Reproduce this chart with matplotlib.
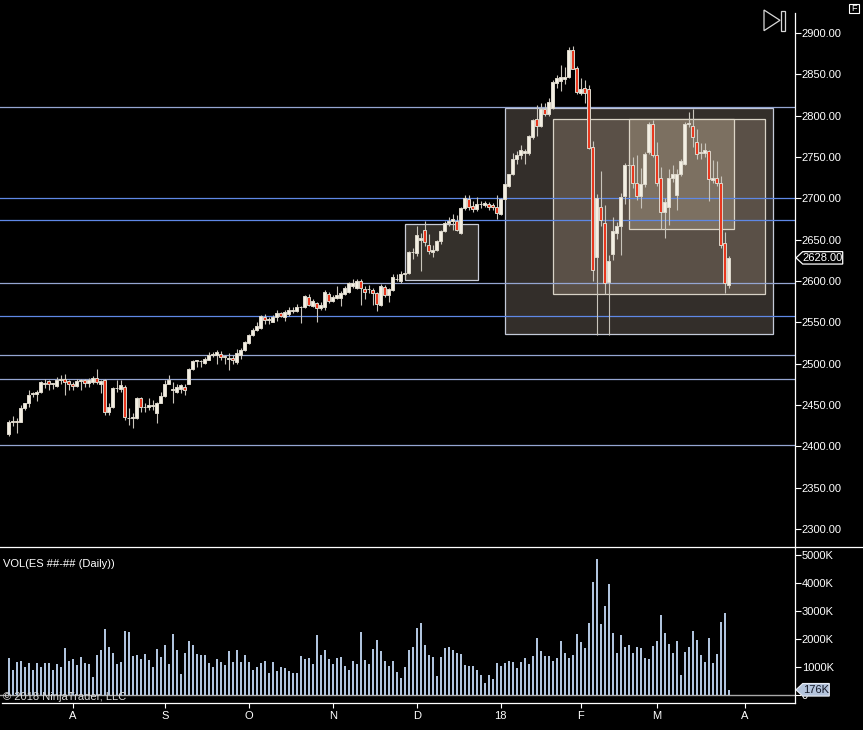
import numpy as np
import matplotlib
matplotlib.use("Agg")
import matplotlib.pyplot as plt
from matplotlib.patches import Rectangle, Polygon
from matplotlib.lines import Line2D
import matplotlib.transforms as mtransforms

plt.rcParams['font.family'] = ['Liberation Sans', 'DejaVu Sans']

# ---------------- data ----------------
opens = [2415,2430,2431,2430,2446,2453,2463,2463,2466,2476,
2479,2476,2473,2480,2481,2479,2476,2473,2479.5,2480,
2477,2478,2483,2476,2480,2441,2447,2470,2469,2472,
2434,2434,2434,2459,2447,2448,2449,2440,2453,2461,
2476,2468,2466,2469,2472,2476,2494,2503,2503,2501,
2505,2510,2510,2512,2509,2506,2507,2502,2510,2516,
2525,2535,2541,2543,2557,2553,2551,2557,2561,2556,
2560,2564,2564,2568,2569,2581,2570,2573,2567,2569,
2584,2576,2580,2579,2584,2587,2594,2592,2600,2590,
2590,2589,2585,2571,2593,2583,2589,2602,2600,2609,
2610,2635,2634,2650,2662,2644,2635,2638,2648,2660,
2670,2673,2672,2658,2688,2699,2691,2687,2693,2692,
2693,2692,2690,2681,2699,2715,2730,2747,2752,2755,
2755,2774,2796,2788,2808,2802,2809,2840,2842,2844,
2847,2880,2858,2828,2834,2832,2762,2629,2690,2670,
2599,2633,2658,2667,2703,2740,2740,2719,2703,2717,
2756,2790,2752,2724,2684,2689,2724,2704,2729,2742,
2790,2787.5,2768,2755,2755,2757,2722,2725,2718,2646,
2595]
highs = [2432,2437,2434,2450,2453,2468,2466,2468,2479,2482,
2480,2477,2484,2486,2487,2480,2478,2481,2482,2482,
2483,2485,2494,2480,2481,2452,2472,2480,2480,2474,
2446,2440,2460,2460,2452,2459,2456,2454,2466,2480,
2486,2478,2476,2476,2476,2495,2505,2505,2505,2508,
2514,2514,2516,2515,2511,2513,2510,2518,2519,2528,
2536,2543,2550,2559,2560,2557,2559,2565,2563,2565,
2568,2568,2572,2570,2583,2584,2578,2575,2574,2589,
2587,2583,2594,2588,2594,2599,2602,2602,2602,2594,
2595,2592,2587,2596,2595,2592,2608,2608,2612,2611,
2636,2640,2666,2658,2673,2657,2644,2650,2662,2673,
2677,2681,2680,2690,2704,2704,2697,2702,2697,2697,
2696,2694,2704,2701,2718,2730,2755,2757,2765,2760,
2777,2796,2813,2815,2815,2821,2843,2849,2861,2859,
2883,2884,2860,2845,2843,2837,2769,2705,2733,2692,
2632,2677,2671,2707,2743,2742,2750,2753,2737,2756,
2792,2795,2768,2738,2701,2735,2740,2735,2748,2792,
2805,2808,2784,2767,2767,2759,2746,2745,2727,2659,
2630]
lows = [2413,2425,2416,2429,2444,2448,2460,2455,2465,2470,
2468,2469,2472,2476,2462,2468,2468,2472,2468,2472,
2472,2476,2476,2464,2438,2438,2446,2466,2466,2432,
2426,2422,2433,2442,2442,2444,2444,2428,2452,2460,
2475,2452,2464,2464,2462,2475,2492,2496,2496,2500,
2504,2508,2500,2505,2500,2492,2500,2500,2506,2515,
2524,2534,2540,2542,2548,2548,2550,2552,2556,2552,
2558,2561,2562,2549,2567,2570,2569,2550,2565,2565,
2573,2574,2578,2570,2583,2586,2592,2590,2571,2578,
2585,2571,2564,2570,2581,2575,2588,2600,2598,2603,
2609,2627,2630,2612,2642,2633,2629,2636,2645,2659,
2667,2662,2660,2657,2686,2686,2683,2685,2688,2690,
2686,2686,2675,2680,2698,2714,2728,2742,2748,2741,
2753,2772,2775,2786,2800,2800,2808,2834,2830,2838,
2846,2856,2826,2825,2815,2760,2600,2535,2666,2584,
2535,2625,2651,2632,2693,2735,2712,2698,2688,2714,
2754,2750,2715,2663,2652,2668,2720,2686,2727,2740,
2786,2762,2748,2747,2750,2697,2719,2715,2640,2586,
2591]
closes = [2430,2431,2430,2446,2452,2462,2465,2466,2478,2477,
2476,2476.5,2480,2481,2478,2476,2473,2479,2480,2477,
2480,2483,2478,2479,2442,2447,2470,2470.5,2474,2435,
2434.5,2436,2459,2447,2448,2450,2450,2453,2461,2476,
2480,2469,2472,2474,2468,2494,2503,2504,2503.5,2506,
2511,2512,2514,2508,2508,2506.5,2504,2513,2516,2526,
2535,2541,2545,2558,2553,2553.5,2557,2561,2558,2562,
2565,2565,2569,2568.5,2582,2571,2576,2567,2571,2587,
2576,2581,2583,2586,2591,2597,2597,2600,2592,2587,
2590.5,2586,2572,2594,2583,2590,2605,2603,2609,2610,
2635,2635.5,2656,2652,2647,2636,2637,2648,2660,2670,
2672,2675,2662,2688,2700,2689,2687,2693,2693.5,2694,
2690,2690,2682,2699,2717,2729,2748,2752,2758,2757,
2775,2795,2788,2808,2802,2817,2841,2845,2847,2847,
2880,2857,2829,2832,2828,2761,2613,2700,2674,2598,
2624,2660,2667,2702,2740,2740.5,2719,2703,2717,2754,
2790,2752,2719,2683,2695,2724,2729,2729,2745,2790,
2790.5,2774,2754,2756,2758,2723,2725,2718,2643,2598,
2628]
volumes_k = [1300,871,1157,1193,978,1121,871,1121,978,1121,
1121,871,1086,978,1658,1193,1265,1050,1336,1121,
1086,620,1408,1587,2338,1694,1479,1086,1157,2267,
2231,1372,1408,1265,1444,1229,978,1622,1336,1766,
1086,2159,1587,728,1479,1909,1766,1444,1408,1408,
1121,978,1265,1157,1050,1551,1157,1587,1157,1408,
1157,871,978,1121,1193,764,1157,835,978,942,
835,764,764,1372,1265,1300,1086,2124,1408,1587,
1265,1086,1300,1336,1014,871,1193,1086,2231,1229,
1086,1622,1945,1551,1193,1014,1193,799,585,978,
1587,1694,2374,2553,1766,1408,1336,656,1336,1658,
1694,1587,1479,1444,1050,1014,1014,871,692,406,
692,549,1121,1014,1121,1193,1157,942,1157,1300,
1086,1372,2016,1551,1372,1372,1193,1300,1909,1479,
1300,1408,2159,1873,1658,2553,4020,4844,2517,3161,
3949,2195,1479,2124,1694,1766,1479,1694,1658,1300,
1265,1730,1909,2839,2195,1801,1479,1909,692,1515,
1694,2267,1945,1408,1157,2016,1121,1444,2589,2911,
176]

month_tick_pos = [16, 39, 60, 81, 102, 123, 143, 162, 184]
month_tick_labels = ['A', 'S', 'O', 'N', 'D', '18', 'F', 'M', 'A']
price_ticks = list(range(2300, 2901, 50))
vol_ticks = [0, 1000, 2000, 3000, 4000, 5000]
vol_tick_labels = ['0', '1000K', '2000K', '3000K', '4000K', '5000K']

hlines_blue = [2700.0, 2673.4, 2557.3]
hlines_light = [2810.1, 2597.2, 2510.1, 2481.1, 2401.3]

# drawn zones: (x0, x1, low, high)
zone_outer = (124.15, 191.0, 2535.5, 2808.9)
zone_middle = (136.15, 189.0, 2583.9, 2795.6)
zone_inner = (155.15, 181.25, 2662.5, 2795.6)
zone_dec = (99.15, 117.25, 2600.9, 2669.0)

# ---------------- figure ----------------
W, H = 863, 730
fig = plt.figure(figsize=(W / 100, H / 100), dpi=100, facecolor='black')

def fx(x):
    return x / W

def fy(y):
    return 1 - y / H

axr = 794.5
ax = fig.add_axes([0, fy(546), fx(axr), 546 / H], facecolor='black')
axv = fig.add_axes([0, fy(703), fx(axr), 157 / H], facecolor='black')

xlim = (-2.175, 196.45)
ax.set_xlim(*xlim)
ax.set_ylim(2279.45, 2939.9)
axv.set_xlim(*xlim)
axv.set_ylim(-296, 5311)

for a in (ax, axv):
    for s in a.spines.values():
        s.set_visible(False)

idx = np.arange(len(opens))
o = np.array(opens, float)
h = np.array(highs, float)
l = np.array(lows, float)
c = np.array(closes, float)
up = c >= o

# zones
def zone(a, z, fc, ec):
    x0, x1, lo, hi = z
    a.add_patch(Rectangle((x0, lo), x1 - x0, hi - lo, facecolor=fc,
                          edgecolor=ec, lw=0.9, zorder=1))

zone(ax, zone_outer, '#332e2a', '#c4cad8')
zone(ax, zone_middle, '#5a5047', '#d8d2c6')
zone(ax, zone_inner, '#7c7061', '#ddd6c8')
zone(ax, zone_dec, '#34302b', '#c8ccd8')

for v in hlines_blue:
    ax.axhline(v, color='#5f88e6', lw=0.9, zorder=2)
for v in hlines_light:
    ax.axhline(v, color='#95a6d2', lw=0.9, zorder=2)

# candles
ax.vlines(idx, l, h, color='#c9c5bc', lw=0.8, zorder=3)
body_lo = np.minimum(o, c)
body_h = np.maximum(np.abs(c - o), 0.6)
fills = np.where(up, '#f3efe3', '#e8381f')
ax.bar(idx, body_h, bottom=body_lo, width=0.72, color=fills,
       edgecolor='#ddd8cc', linewidth=0.7, zorder=4)

# price axis ticks
ax.yaxis.tick_right()
ax.set_yticks(price_ticks)
ax.set_yticklabels([f"{v:.2f}" for v in price_ticks])
ax.tick_params(axis='y', colors='white', labelcolor='white', length=4.3,
               width=0.8, pad=1, labelsize=8)
ax.set_xticks([])

# volume
axv.bar(idx, volumes_k, width=0.5, color='#b0c4de', zorder=3)
axv.axhline(0, color='#a8a8a8', lw=1.0, zorder=2)
axv.yaxis.tick_right()
axv.set_yticks(vol_ticks)
axv.set_yticklabels(vol_tick_labels)
axv.tick_params(axis='y', colors='white', labelcolor='white', length=4.3,
                width=0.8, pad=1, labelsize=8)
axv.set_xticks(month_tick_pos)
axv.set_xticklabels(month_tick_labels)
axv.tick_params(axis='x', colors='white', labelcolor='white', length=3.6,
                width=0.8, pad=2, labelsize=8)

# frame lines
fig.add_artist(Line2D([fx(axr), fx(axr)], [fy(13), fy(703)], color='white',
                      lw=0.9, transform=fig.transFigure))
fig.add_artist(Line2D([0, 1], [fy(546.5), fy(546.5)], color='white',
                      lw=0.9, transform=fig.transFigure))
fig.add_artist(Line2D([fx(2), fx(axr)], [fy(703), fy(703)], color='white',
                      lw=0.9, transform=fig.transFigure))

# last price marker
last = closes[-1]
tr = mtransforms.blended_transform_factory(fig.transFigure, ax.transData)
hh = 6.2 / 0.8267
ax.add_artist(Polygon([(fx(796), last), (fx(802.7), last + hh),
                       (fx(842.7), last + hh), (fx(842.7), last - hh),
                       (fx(802.7), last - hh)], closed=True,
                      facecolor='black', edgecolor='white', lw=0.9,
                      transform=tr, clip_on=False, zorder=10))
ax.text(fx(822.5), last, f"{last:.2f}", transform=tr, color='white',
        fontsize=8, ha='center', va='center', zorder=11, clip_on=False)

# last volume marker
lastv = volumes_k[-1]
trv = mtransforms.blended_transform_factory(fig.transFigure, axv.transData)
vh = 6.3 / 28 * 1000
axv.add_artist(Polygon([(fx(796), lastv), (fx(802.7), lastv + vh),
                        (fx(829.3), lastv + vh), (fx(829.3), lastv - vh),
                        (fx(802.7), lastv - vh)], closed=True,
                       facecolor='#b4c4dc', edgecolor='#e8ecf4', lw=0.8,
                       transform=trv, clip_on=False, zorder=10))
axv.text(fx(816.5), lastv, f"{lastv}K", transform=trv, color='#141828',
         fontsize=8, ha='center', va='center', zorder=11, clip_on=False)

# labels
fig.text(fx(3.3), fy(564.3), "VOL(ES ##-## (Daily))", color='white',
         fontsize=8, ha='left', va='center')
fig.text(fx(2.7), fy(697.3), "\u00a9 2018 NinjaTrader, LLC", color='#d8d8d8',
         fontsize=8, ha='left', va='center', zorder=20)

# top-right icons
fig.add_artist(Polygon([(fx(764), fy(10)), (fx(780), fy(20.3)),
                        (fx(764), fy(30.7))], closed=True, fill=False,
                       edgecolor='#d8d8d8', lw=0.9, transform=fig.transFigure))
fig.add_artist(Rectangle((fx(781.3), fy(30.7)), 3.4 / W, 19.7 / H,
                         fill=False, edgecolor='#d8d8d8', lw=0.9,
                         transform=fig.transFigure))
fig.add_artist(Rectangle((fx(849.3), fy(13.3)), 10 / W, 9.3 / H,
                         fill=False, edgecolor='white', lw=0.8,
                         transform=fig.transFigure))
fig.text(fx(854.3), fy(8.9), "F", color='white', fontsize=6.5,
         ha='center', va='center')

fig.savefig("out.png", dpi=100, facecolor='black')
